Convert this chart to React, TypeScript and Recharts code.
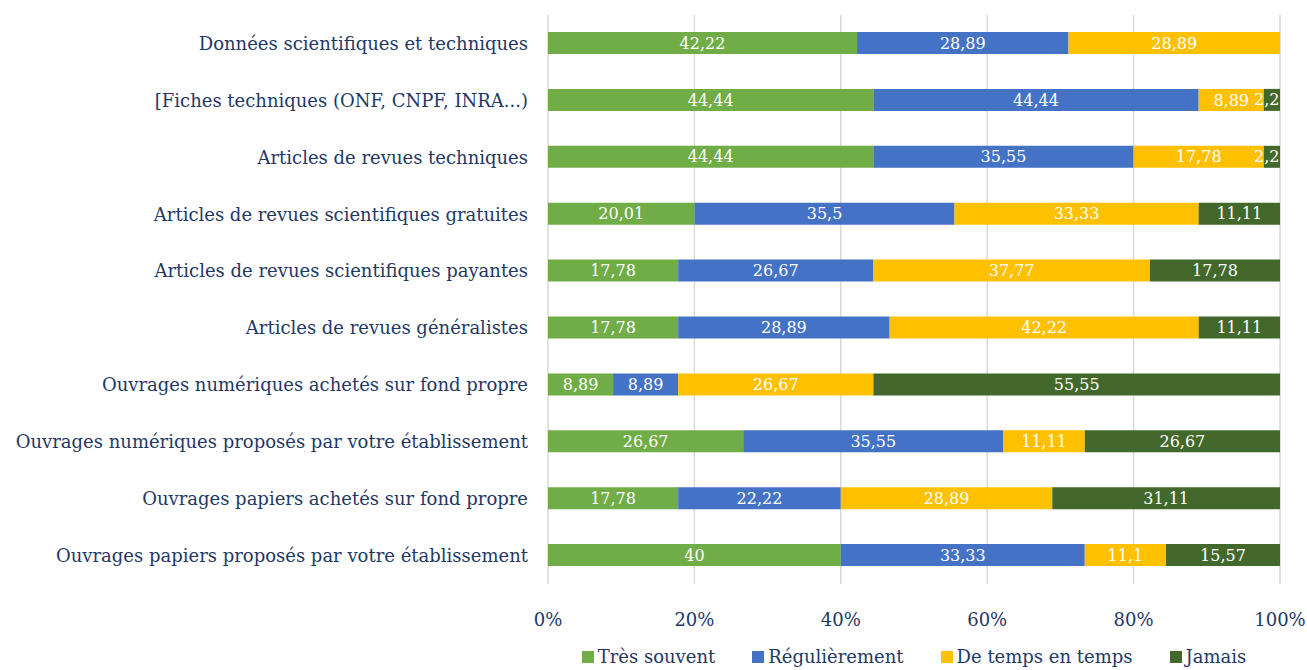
import { BarChart, Bar, XAxis, YAxis, CartesianGrid, Legend, LabelList } from 'recharts';

// Catégories (de haut en bas)
const categories = [
  'Données scientifiques et techniques',
  '[Fiches techniques (ONF, CNPF, INRA...)',
  'Articles de revues techniques',
  'Articles de revues scientifiques gratuites',
  'Articles de revues scientifiques payantes',
  'Articles de revues généralistes',
  'Ouvrages numériques achetés sur fond propre',
  'Ouvrages numériques proposés par votre établissement',
  'Ouvrages papiers achetés sur fond propre',
  'Ouvrages papiers proposés par votre établissement',
];

const tresSouvent = [42.22, 44.44, 44.44, 20.01, 17.78, 17.78, 8.89, 26.67, 17.78, 40];
const regulierement = [28.89, 44.44, 35.55, 35.5, 26.67, 28.89, 8.89, 35.55, 22.22, 33.33];
const deTempsEnTemps = [28.89, 8.89, 17.78, 33.33, 37.77, 42.22, 26.67, 11.11, 28.89, 11.1];
const jamais = [0, 2.22, 2.22, 11.11, 17.78, 11.11, 55.55, 26.67, 31.11, 15.57];

const xTicks = [0, 0.2, 0.4, 0.6, 0.8, 1];

const SERIES = [
  { key: 'tres', name: 'Très souvent', color: '#70AD47' },
  { key: 'reg', name: 'Régulièrement', color: '#4472C4' },
  { key: 'temps', name: 'De temps en temps', color: '#FFC000' },
  { key: 'jamais', name: 'Jamais', color: '#43682B' },
];

const data = categories.map((name, i) => ({
  name,
  tres: tresSouvent[i],
  reg: regulierement[i],
  temps: deTempsEnTemps[i],
  jamais: jamais[i],
}));

const FONT = '"DejaVu Serif", serif';
const TEXT = '#1F3864';

const fmt = (v: any) => String(v).replace('.', ',');

// étiquette coupée au bord droit de la barre (comme dans Excel)
function ClippedLabel(props: any) {
  const vb = props.viewBox || props;
  const { x, y, width, height } = vb;
  const id = `clip-jamais-${props.index}`;
  return (
    <g>
      <defs>
        <clipPath id={id}>
          <rect x={0} y={y - 5} width={x + width} height={height + 10} />
        </clipPath>
      </defs>
      <text
        x={x + width / 2}
        y={y + height / 2}
        textAnchor="middle"
        dominantBaseline="central"
        fill="#fff"
        fontSize={16}
        fontFamily={FONT}
        clipPath={`url(#${id})`}
      >
        {fmt(props.value)}
      </text>
    </g>
  );
}

function renderLegend() {
  return (
    <div style={{ display: 'flex', justifyContent: 'center', fontFamily: FONT, fontSize: 18, color: TEXT }}>
      {SERIES.map((s, i) => (
        <div
          key={s.key}
          style={{ display: 'flex', alignItems: 'center', marginRight: i === SERIES.length - 1 ? 0 : 37 }}
        >
          <span style={{ width: 12, height: 12, background: s.color, display: 'inline-block', marginRight: 4 }} />
          <span>{s.name}</span>
        </div>
      ))}
    </div>
  );
}

export default function App() {
  return (
    <div style={{ position: 'absolute', left: 0, top: 0, width: 1307, height: 670, background: '#fff' }}>
      <BarChart
        width={1307}
        height={670}
        data={data}
        layout="vertical"
        stackOffset="expand"
        margin={{ top: 15, right: 27, bottom: 36, left: 0 }}
        barSize={22}
      >
        <CartesianGrid horizontal={false} stroke="#D9D9D9" strokeWidth={1.5} />
        <XAxis
          type="number"
          domain={[0, 1]}
          ticks={xTicks}
          tickFormatter={(v) => `${Math.round(v * 100)}%`}
          axisLine={false}
          tickLine={false}
          tickSize={0}
          tickMargin={29}
          height={50}
          tick={{ fill: TEXT, fontSize: 18, fontFamily: FONT }}
        />
        <YAxis
          type="category"
          dataKey="name"
          width={548}
          axisLine={false}
          tickLine={false}
          tickSize={0}
          tickMargin={20}
          interval={0}
          tick={{ fill: TEXT, fontSize: 18, fontFamily: FONT }}
        />
        <Legend
          verticalAlign="middle"
          align="center"
          content={renderLegend}
          wrapperStyle={{ top: 646, left: 548, width: 732 }}
        />
        {SERIES.map((s) => (
          <Bar key={s.key} dataKey={s.key} name={s.name} stackId="a" fill={s.color} isAnimationActive={false}>
            {s.key === 'jamais' ? (
              <LabelList dataKey={s.key} content={ClippedLabel} />
            ) : (
              <LabelList
                dataKey={s.key}
                position="center"
                fill="#fff"
                fontSize={16}
                fontFamily={FONT}
                formatter={fmt}
              />
            )}
          </Bar>
        ))}
      </BarChart>
    </div>
  );
}
